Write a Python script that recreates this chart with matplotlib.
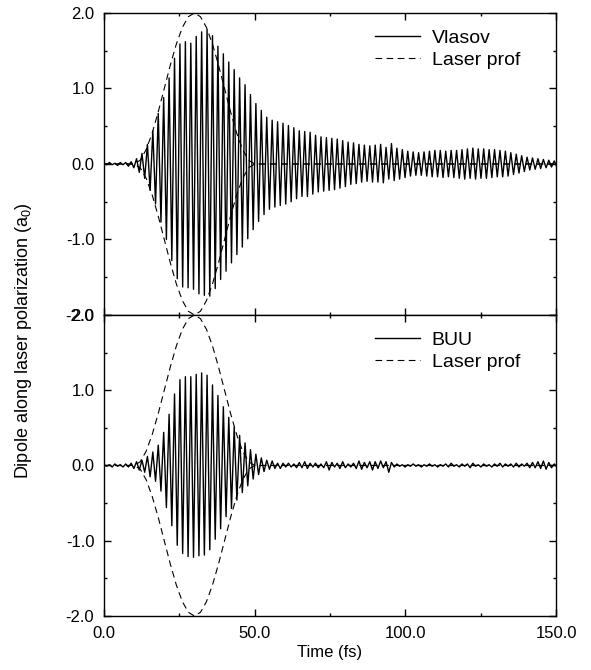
import numpy as np
import matplotlib
matplotlib.use("Agg")
import matplotlib.pyplot as plt
from matplotlib.ticker import MultipleLocator, FormatStrFormatter

plt.rcParams["font.family"] = ["Liberation Sans", "DejaVu Sans"]
plt.rcParams["mathtext.fontset"] = "custom"
plt.rcParams["mathtext.rm"] = "Liberation Sans"

# dipole extrema, one value per half cycle of the response
half_period = 0.9  # fs

vlasov = [
    0.01, -0.01, 0.02, -0.01, 0.01, -0.02, 0.02, -0.01, 0.02, -0.03,   # 0 - 8 fs
    0.03, -0.05, 0.07, -0.11, 0.14, -0.19, 0.26, -0.35, 0.44, -0.53,   # 9 - 17
    0.67, -0.77, 0.88, -1.00, 1.14, -1.28, 1.40, -1.52, 1.59, -1.63,   # 18 - 26
    1.62, -1.64, 1.60, -1.66, 1.69, -1.72, 1.75, -1.74, 1.78, -1.75,   # 27 - 35
    1.70, -1.65, 1.56, -1.53, 1.46, -1.42, 1.35, -1.31, 1.25, -1.20,   # 36 - 44
    1.14, -1.10, 1.05, -0.99, 0.92, -0.87, 0.80, -0.76, 0.71, -0.67,   # 45 - 53
    0.62, -0.60, 0.58, -0.57, 0.56, -0.55, 0.54, -0.53, 0.51, -0.50,   # 54 - 62
    0.48, -0.46, 0.44, -0.43, 0.43, -0.43, 0.42, -0.40, 0.38, -0.37,   # 63 - 71
    0.36, -0.36, 0.35, -0.35, 0.34, -0.34, 0.33, -0.32, 0.31, -0.30,   # 72 - 80
    0.29, -0.27, 0.28, -0.26, 0.26, -0.24, 0.25, -0.23, 0.24, -0.24,   # 81 - 89
    0.25, -0.24, 0.26, -0.25, 0.22, -0.20, 0.27, -0.22, 0.21, -0.20,   # 90 - 98
    0.19, -0.18, 0.17, -0.16, 0.16, -0.15, 0.15, -0.15, 0.16, -0.16,   # 99 - 107
    0.17, -0.17, 0.18, -0.17, 0.18, -0.18, 0.17, -0.17, 0.18, -0.18,   # 108 - 116
    0.18, -0.19, 0.19, -0.20, 0.20, -0.19, 0.21, -0.20, 0.20, -0.19,   # 117 - 125
    0.20, -0.19, 0.19, -0.18, 0.19, -0.17, 0.18, -0.17, 0.17, -0.16,   # 126 - 134
    0.15, -0.14, 0.13, -0.12, 0.11, -0.10, 0.09, -0.08, 0.08, -0.07,   # 135 - 143
    0.07, -0.06, 0.06, -0.05, 0.05, -0.04, 0.04, -0.04,                # 144 - 150
]

buu = [
    0.01, -0.01, 0.01, -0.02, 0.02, -0.01, 0.01, -0.02, 0.02, -0.02,   # 0 - 8 fs
    0.03, -0.04, 0.05, -0.06, 0.07, -0.09, 0.12, -0.15, 0.18, -0.21,   # 9 - 17
    0.27, -0.34, 0.44, -0.56, 0.68, -0.80, 0.95, -1.06, 1.14, -1.17,   # 18 - 26
    1.18, -1.21, 1.18, -1.22, 1.21, -1.20, 1.23, -1.19, 1.20, -1.12,   # 27 - 35
    1.07, -0.98, 0.93, -0.84, 0.78, -0.68, 0.64, -0.57, 0.51, -0.46,   # 36 - 44
    0.40, -0.36, 0.30, -0.27, 0.21, -0.18, 0.15, -0.12, 0.10, -0.08,   # 45 - 53
    0.07, -0.05, 0.06, -0.04, 0.03, -0.04, 0.03, -0.02, 0.03, -0.02,   # 54 - 62
    0.02, -0.03, 0.04, -0.03, 0.05, -0.04, 0.03, -0.02, 0.03, -0.03,   # 63 - 71
    0.02, -0.03, 0.05, -0.06, 0.04, -0.02, 0.03, -0.04, 0.05, -0.03,   # 72 - 80
    0.02, -0.02, 0.03, -0.04, 0.06, -0.05, 0.04, -0.03, 0.05, -0.06,   # 81 - 89
    0.05, -0.04, 0.06, -0.03, 0.05, -0.09, 0.04, -0.02, 0.02, -0.01,   # 90 - 98
    0.01, -0.02, 0.01, -0.01, 0.02, -0.01, 0.01, -0.02, 0.01, -0.01,   # 99 - 107
    0.02, -0.01, 0.01, -0.02, 0.01, -0.01, 0.02, -0.02, 0.03, -0.01,   # 108 - 116
    0.01, -0.02, 0.02, -0.01, 0.02, -0.03, 0.03, -0.01, 0.01, -0.02,   # 117 - 125
    0.02, -0.01, 0.01, -0.02, 0.02, -0.01, 0.03, -0.02, 0.02, -0.01,   # 126 - 134
    0.02, -0.02, 0.03, -0.02, 0.02, -0.01, 0.03, -0.03, 0.04, -0.03,   # 135 - 143
    0.05, -0.04, 0.06, -0.05, 0.04, -0.03, 0.02, -0.02,                # 144 - 150
]

# laser envelope (dashed), same in both panels
laser_t = [0, 10, 12, 14, 16, 18, 20, 22, 24, 26, 28, 30,
           32, 34, 36, 38, 40, 42, 44, 46, 48, 50, 150]
laser_amp = [0.0, 0.0, 0.049, 0.191, 0.412, 0.691, 1.0, 1.309, 1.588, 1.809, 1.951, 2.0,
             1.951, 1.809, 1.588, 1.309, 1.0, 0.691, 0.412, 0.191, 0.049, 0.0, 0.0]

panels = [("Vlasov", vlasov), ("BUU", buu)]

fig = plt.figure(figsize=(5.91, 6.70), dpi=100)
ax_top = fig.add_axes([0.176, 0.5299, 0.7648, 0.4507])
ax_bot = fig.add_axes([0.176, 0.0806, 0.7648, 0.4493])

for ax, (name, data) in zip([ax_top, ax_bot], panels):
    t = np.arange(len(data)) * half_period
    ax.plot(t, data, color="black", lw=1.0, label=name)
    ax.plot(laser_t, laser_amp, color="black", lw=0.8, dashes=(6, 4), label="Laser prof")
    ax.plot(laser_t, -np.array(laser_amp), color="black", lw=0.8, dashes=(6, 4))
    ax.set_xlim(0, 150)
    ax.set_ylim(-2, 2)
    ax.xaxis.set_major_locator(MultipleLocator(50))
    ax.xaxis.set_minor_locator(MultipleLocator(25))
    ax.yaxis.set_major_locator(MultipleLocator(1.0))
    ax.yaxis.set_minor_locator(MultipleLocator(0.5))
    ax.xaxis.set_major_formatter(FormatStrFormatter("%.1f"))
    ax.yaxis.set_major_formatter(FormatStrFormatter("%.1f"))
    ax.tick_params(which="both", direction="in", top=True, right=True,
                   labelsize=12, width=1, pad=7)
    ax.tick_params(which="major", length=5)
    ax.tick_params(which="minor", length=2.5)
    for s in ax.spines.values():
        s.set_linewidth(1.0)
    ax.legend(loc="upper left", bbox_to_anchor=(0.60, 0.945), frameon=False,
              fontsize=14, handlelength=2.3, handletextpad=0.6,
              borderpad=0, borderaxespad=0, labelspacing=0.2)

ax_top.tick_params(labelbottom=False)
ax_bot.set_xlabel("Time (fs)", fontsize=12, labelpad=3)
fig.text(24 / 591, 0.491, "Dipole along laser polarization (a$_0$)",
         rotation=90, ha="center", va="center", fontsize=13)

fig.savefig("out.png", dpi=100)
